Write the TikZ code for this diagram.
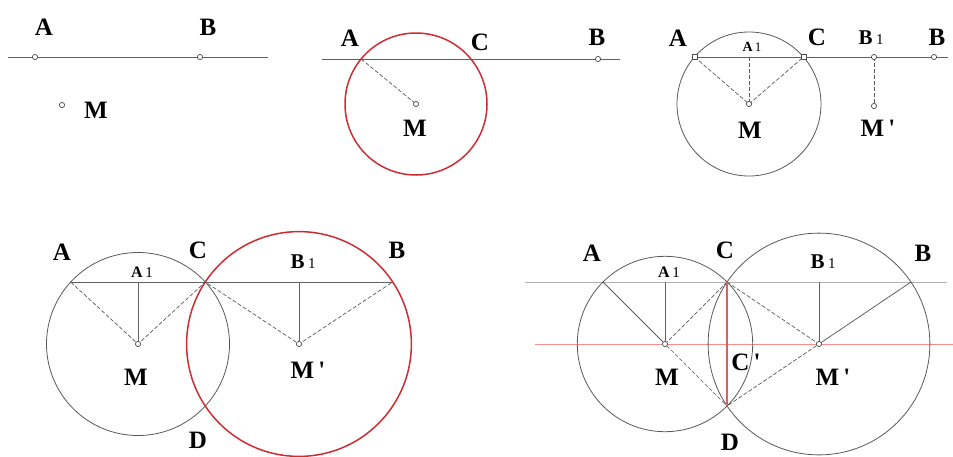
\documentclass[tikz,border=0pt]{standalone}
\usepackage{fontspec}
\setmainfont{Liberation Serif}
\definecolor{cred}{RGB}{205,45,50}
\tikzset{
  lbl/.style={font=\fontsize{25}{25}\selectfont\bfseries},
  sublbl/.style={font=\fontsize{21}{21}\selectfont\bfseries},
  smlbl/.style={font=\fontsize{16}{16}\selectfont\bfseries},
  ln/.style={draw=gray!75!black, line width=0.8pt},
  dsh/.style={draw=gray!70!black, line width=0.7pt, dash pattern=on 4pt off 2pt},
  crc/.style={draw=gray!70!black, line width=0.8pt},
  redcrc/.style={draw=cred, line width=1.5pt},
  pt/.style={draw=gray!60!black, fill=white, line width=0.7pt}
}
\newcommand{\idx}[1]{\,{\mdseries\fontsize{#1}{#1}\selectfont 1}}
\newcommand{\prm}{\,\textquotesingle}
\begin{document}
\begin{tikzpicture}[x=1pt,y=-1pt]
\useasboundingbox (0,0) rectangle (953,456);
%% panel 1
\coordinate (aL) at (8,57); \coordinate (aR) at (268,57);
\coordinate (aA) at (35,57); \coordinate (aB) at (200,57);
\coordinate (aM) at (62,105);
\draw[ln] (aL) -- (aR);
\draw[pt] (aA) circle (2.6);
\draw[pt] (aB) circle (2.6);
\draw[pt] (aM) circle (2.6);
\node[lbl] (aAl) at (44,27) {A};
\node[lbl] (aBl) at (208,27) {B};
\node[lbl] (aMl) at (96,110) {M};

%% panel 2
\coordinate (bL) at (322,59); \coordinate (bR) at (620,59);
\coordinate (bM) at (416,104);
\coordinate (bA) at (361.1,59); \coordinate (bC) at (470.9,59);
\coordinate (bB) at (598,59);
\draw[ln] (bL) -- (bR);
%circle
\draw[redcrc] (bM) circle (71);
\draw[dsh] (bA) -- (bM);
\draw[pt] (bM) circle (2.6);
\draw[pt] (bB) circle (2.6);
\node[lbl] (bAl) at (350,38) {A};
\node[lbl] (bCl) at (480,42) {C};
\node[lbl] (bBl) at (597,37) {B};
\node[lbl] (bMl) at (415,128) {M};

%% panel 3
\coordinate (cL) at (692,57); \coordinate (cR) at (948,57);
\coordinate (cM) at (749,104);
\coordinate (cA) at (694.5,57); \coordinate (cC) at (803.5,57);
\coordinate (cA1) at (749,57);
\coordinate (cB1) at (874,57); \coordinate (cM') at (874,106);
\coordinate (cB) at (934,57);
\draw[ln] (cL) -- (cR);
\draw[crc] (cM) circle (72);
\draw[dsh] (cA) -- (cM) -- (cC);
\draw[dsh] (cA1) -- (cM);
\draw[dsh] (cB1) -- (cM');
\draw[pt] (cA) ++(-2.5,-2.5) rectangle ++(5,5);
\draw[pt] (cC) ++(-2.5,-2.5) rectangle ++(5,5);
\draw[pt] (cM) circle (2.6);
\draw[pt] (cB1) circle (2.6);
\draw[pt] (cM') circle (2.6);
\draw[pt] (cB) circle (2.6);
\node[lbl] (cAl) at (678,38) {A};
\node[font=\fontsize{14}{14}\selectfont\bfseries] (cA1l) at (752,47) {A\idx{13}};
\node[lbl] (cCl) at (817,37) {C};
\node[sublbl] (cB1l) at (871,38) {B\idx{15}};
\node[lbl] (cBl) at (937,37) {B};
\node[lbl] (cMl) at (750,130) {M};
\node[lbl] (cM'l) at (878,128) {M\prm};

%% panel 4
\coordinate (dM) at (138,344); \coordinate (dM') at (299,344);
\coordinate (dA) at (70.7,282); \coordinate (dC) at (205.3,282);
\coordinate (dB) at (392.7,282); \coordinate (dD) at (205.3,406);
\coordinate (dA1) at (138,282); \coordinate (dB1) at (299,282);
\draw[ln] (dA) -- (dB);
%circles
\draw[crc] (dM) circle (91.5);
\draw[redcrc] (dM') circle (112.4);
%radii
\draw[dsh] (dA) -- (dM) -- (dC) -- (dM') -- (dB);
\draw[ln] (dA1) -- (dM);
\draw[ln] (dB1) -- (dM');
\draw[pt] (dM) circle (2.6);
\draw[pt] (dM') circle (2.6);
\node[lbl] (dAl) at (62,252) {A};
\node[smlbl] (dA1l) at (142,272) {A\idx{15}};
\node[lbl] (dCl) at (198,250) {C};
\node[sublbl] (dB1l) at (303,262) {B\idx{15}};
\node[lbl] (dBl) at (397,250) {B};
\node[lbl] (dMl) at (136,377) {M};
\node[lbl] (dM'l) at (308,370) {M\prm};
\node[lbl] (dDl) at (198,440) {D};

%% panel 5
\coordinate (eL) at (525,282); \coordinate (eR) at (947,282);
\coordinate (eL2) at (535,344); \coordinate (eR2) at (953,344);
\coordinate (eM) at (665,344); \coordinate (eM') at (819,344);
\coordinate (eA) at (603,282); \coordinate (eC) at (727,282);
\coordinate (eB) at (911,282); \coordinate (eD) at (727,406);
\coordinate (eA1) at (665,282); \coordinate (eB1) at (819,282);
\draw[draw=gray!60, line width=0.8pt] (eL) -- (eR);
\draw[draw=red!45, line width=1pt] (eL2) -- (eR2);
%circles
\draw[crc] (eM) circle (87.7);
\draw[crc] (eM') circle (110.9);
%radii
\draw[ln] (eA) -- (eM);
\draw[ln] (eA1) -- (eM);
\draw[ln] (eB) -- (eM');
\draw[ln] (eB1) -- (eM');
\draw[dsh] (eC) -- (eM) -- (eD);
\draw[dsh] (eC) -- (eM') -- (eD);
%common chord
\draw[draw=cred!75, line width=1.5pt] (eC) -- (eD);
\draw[pt] (eM) circle (2.6);
\draw[pt] (eM') circle (2.6);
\node[lbl] (eAl) at (592,253) {A};
\node[smlbl] (eA1l) at (669,272) {A\idx{15}};
\node[lbl] (eCl) at (725,250) {C};
\node[sublbl] (eB1l) at (823,262) {B\idx{15}};
\node[lbl] (eBl) at (923,253) {B};
\node[lbl] (eMl) at (667,377) {M};
\node[lbl] (eM'l) at (833,377) {M\prm};
\node[lbl] (eC'l) at (746,362) {C\prm};
\node[lbl] (eDl) at (730,442) {D};
\end{tikzpicture}
\end{document}
